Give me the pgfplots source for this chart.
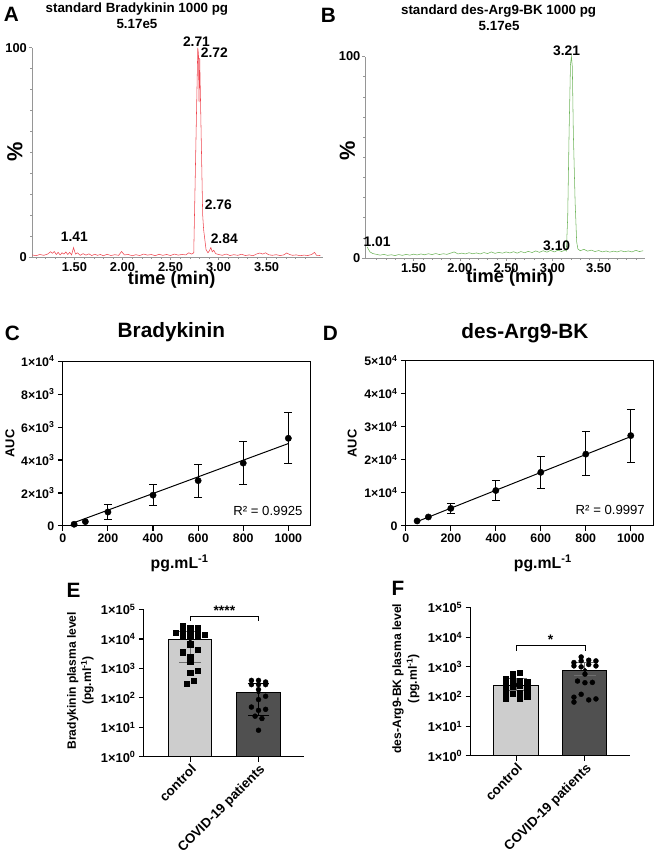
\documentclass[border=0pt]{standalone}
\usepackage{fontspec}
\setmainfont{Liberation Sans}
\usepackage{pgfplots}
\pgfplotsset{compat=1.18}
\definecolor{trA}{RGB}{238,70,80}
\definecolor{trB}{RGB}{110,180,90}
\definecolor{lgray}{RGB}{205,205,205}
\definecolor{dgray}{RGB}{80,80,80}
\definecolor{egray}{RGB}{110,110,110}
\definecolor{agray}{RGB}{150,150,150}
\newcommand{\fs}[1]{\fontsize{#1}{#1}\selectfont}
\pgfplotsset{
  chromax/.style={anchor=south west, scale only axis, clip=false,
    axis x line*=bottom, axis y line*=left,
    x axis line style={-, draw=agray, line width=0.5pt}, y axis line style={-, draw=agray, line width=0.5pt},
    xtick={1.5,2,2.5,3,3.5}, xticklabels={1.50,2.00,2.50,3.00,3.50},
    minor xtick={1.1,1.2,1.3,1.4,1.6,1.7,1.8,1.9,2.1,2.2,2.3,2.4,2.6,2.7,2.8,2.9,3.1,3.2,3.3,3.4,3.6,3.7,3.8,3.9},
    ymin=0, ymax=100, ytick={0,100}, yticklabels={0,100},
    minor ytick={10,20,30,40,50,60,70,80,90},
    tick align=outside, major tick length=3bp, minor tick length=2bp,
    every tick/.style={agray, line width=0.4pt},
    ticklabel style={font=\fs{13}\bfseries, inner sep=2bp}},
  calax/.style={anchor=south west, scale only axis, clip=false,
    xmin=0, xmax=1100, ymin=0,
    axis line style={line width=1.1pt},
    xtick={0,200,400,600,800,1000}, xticklabels={0,200,400,600,800,1000},
    xtick pos=bottom, ytick pos=left, tick align=outside, major tick length=5bp,
    every tick/.style={black, line width=1.1pt}, scaled ticks=false,
    ticklabel style={font=\fs{12.5}\bfseries}},
  plasmaax/.style={anchor=south west, scale only axis, clip=false,
    ymin=1, ymax=100000, yminorticks=false,
    axis x line*=bottom, axis y line*=left, axis line style={-, line width=1.1pt},
    xtick={0,1}, xticklabels={control,COVID-19 patients},
    xticklabel style={rotate=45, anchor=north east, font=\fs{13.5}\bfseries, inner sep=1bp},
    ytick={1,10,100,1000,10000,100000},
    yticklabels={1×10\textsuperscript{0},1×10\textsuperscript{1},1×10\textsuperscript{2},1×10\textsuperscript{3},1×10\textsuperscript{4},1×10\textsuperscript{5}},
    yticklabel style={font=\fs{13}\bfseries},
    tick align=outside, major tick length=5bp, every tick/.style={black, line width=1.1pt}},
  calpts/.style={only marks, mark=*, mark size=3.2bp, black,
    error bars/.cd, y dir=both, y explicit,
    error bar style={draw=black, line width=1pt},
    error mark options={rotate=90, draw=black, mark size=4bp, line width=1pt}},
}
\begin{document}
\begin{tikzpicture}
\begin{scope}[x=1bp,y=1bp]
\path[use as bounding box] (0,0) rectangle (671,856);
\end{scope}

% ---------- A ----------
\begin{axis}[chromax, at={(32.3bp,597bp)}, width=293.2bp, height=211bp, xmin=1.058, xmax=4.088]
\addplot[trA, line width=0.55pt] coordinates {
(1.06,1.0) (1.10,0.6) (1.14,1.2) (1.18,0.8) (1.22,1.4) (1.25,2.5) (1.27,1.8) (1.29,2.6)
(1.31,1.2) (1.33,2.2) (1.35,1.0) (1.37,2.0) (1.39,1.4) (1.41,2.4) (1.43,1.2) (1.45,2.2)
(1.47,1.0) (1.49,4.5) (1.51,1.4) (1.53,2.0) (1.56,0.8) (1.59,1.6) (1.62,0.9) (1.65,1.5)
(1.68,0.7) (1.71,1.3) (1.74,0.8) (1.77,1.2) (1.80,0.6) (1.84,1.3) (1.88,0.7) (1.92,1.1)
(1.96,0.8) (1.99,2.6) (2.02,1.0) (2.06,1.2) (2.10,0.6) (2.14,1.1) (2.18,0.7) (2.22,1.4)
(2.26,0.9) (2.30,1.2) (2.34,0.6) (2.38,1.3) (2.42,0.8) (2.46,1.2) (2.50,0.7) (2.54,1.4)
(2.58,0.9) (2.62,1.2) (2.66,1.0) (2.69,2.0) (2.72,1.4) (2.742,2.0) (2.784,100) (2.791,97)
(2.797,74) (2.804,95) (2.835,20) (2.845,13) (2.870,3.5) (2.890,2.0) (2.905,3.0) (2.92,4.5)
(2.935,2.5) (2.95,3.2) (2.97,1.6) (3.00,1.2) (3.04,0.8) (3.08,1.4) (3.12,0.7) (3.16,1.1)
(3.20,0.8) (3.24,1.3) (3.28,0.7) (3.32,1.0) (3.36,0.6) (3.40,1.5) (3.43,1.9) (3.46,1.4)
(3.49,2.0) (3.52,1.1) (3.56,0.8) (3.60,1.1) (3.64,0.7) (3.68,1.0) (3.71,1.9) (3.74,1.2)
(3.77,0.8) (3.81,1.0) (3.85,0.6) (3.89,0.9) (3.93,0.7) (3.97,1.2) (4.00,2.2) (4.02,0.8)
(4.06,0.7)};
\end{axis}

% ---------- B ----------
\begin{axis}[chromax, at={(368.3bp,596bp)}, width=281.7bp, height=203bp, xmin=0.981, xmax=4.0]
\addplot[trB, line width=0.55pt] coordinates {
(1.00,5.5) (1.01,4.5) (1.03,3.0) (1.06,2.2) (1.10,1.8) (1.14,1.4) (1.18,1.8) (1.22,1.3)
(1.26,1.6) (1.30,1.2) (1.34,1.7) (1.38,1.3) (1.42,1.8) (1.46,1.4) (1.50,1.9) (1.54,1.5)
(1.58,2.0) (1.62,1.6) (1.66,2.1) (1.70,1.7) (1.74,2.2) (1.78,1.7) (1.82,2.1) (1.86,1.8)
(1.90,2.4) (1.94,3.0) (1.98,2.0) (2.02,2.4) (2.06,2.0) (2.10,2.6) (2.14,2.1) (2.18,2.5)
(2.22,2.0) (2.26,2.7) (2.30,2.2) (2.34,3.0) (2.38,2.3) (2.42,2.8) (2.46,2.4) (2.50,3.0)
(2.54,2.5) (2.58,3.1) (2.62,2.4) (2.66,3.2) (2.70,2.6) (2.74,3.3) (2.78,2.7) (2.82,3.5)
(2.86,2.8) (2.90,3.6) (2.94,2.9) (2.98,3.8) (3.02,3.0) (3.06,3.9) (3.10,3.2) (3.14,4.0)
(3.150,3.5) (3.165,20) (3.180,62) (3.195,96) (3.205,100) (3.215,95) (3.226,62) (3.245,28)
(3.262,8) (3.275,4.5) (3.30,3.6) (3.34,4.3) (3.38,3.4) (3.42,3.9) (3.46,3.2) (3.50,3.7)
(3.54,3.0) (3.58,3.5) (3.62,2.9) (3.66,3.4) (3.70,3.0) (3.74,3.6) (3.78,3.1) (3.82,3.5)
(3.86,3.0) (3.90,3.8) (3.94,3.2) (3.98,3.6)};
\end{axis}

% ---------- C ----------
\begin{axis}[calax, at={(63.3bp,326bp)}, width=250bp, height=166bp, ymax=10000,
  ytick={0,2000,4000,6000,8000,10000},
  yticklabels={0,2×10\textsuperscript{3},4×10\textsuperscript{3},6×10\textsuperscript{3},8×10\textsuperscript{3},1×10\textsuperscript{4}}]
\addplot[black, line width=1pt] coordinates {(50,200) (1000,5000)};
\addplot[calpts] coordinates {
(50,100) (100,260)
(200,843) += (0,462) -= (0,463)
(400,1867) += (0,643) -= (0,622)
(600,2750) += (0,965) -= (0,1003)
(800,3815) += (0,1285) -= (0,1285)
(1000,5320) += (0,1570) -= (0,1545)};
\end{axis}

% ---------- D ----------
\begin{axis}[calax, at={(409bp,326bp)}, width=249.3bp, height=166.7bp, ymax=50000,
  ytick={0,10000,20000,30000,40000,50000},
  yticklabels={0,1×10\textsuperscript{4},2×10\textsuperscript{4},3×10\textsuperscript{4},4×10\textsuperscript{4},5×10\textsuperscript{4}}]
\addplot[black, line width=1pt] coordinates {(50,1300) (1000,27000)};
\addplot[calpts] coordinates {
(50,1500) (100,2700)
(200,5300) += (0,1500) -= (0,1500)
(400,10700) += (0,3100) -= (0,3100)
(600,16200) += (0,4900) -= (0,5000)
(800,21700) += (0,6700) -= (0,6500)
(1000,27300) += (0,8000) -= (0,8000)};
\end{axis}

% ---------- E ----------
\begin{axis}[ymode=log, plasmaax, at={(145bp,93.3bp)}, width=161bp, height=148.4bp, xmin=-0.679, xmax=1.661]
\addplot[ybar, bar width=0.63, bar shift=0pt, fill=lgray, draw=black, line width=1.1pt] coordinates {(0,9800)};
\addplot[ybar, bar width=0.64, bar shift=0pt, fill=dgray, draw=black, line width=1.1pt] coordinates {(1,155)};
\addplot[only marks, mark=none, error bars/.cd, y dir=both, y explicit,
  error bar style={draw=egray, line width=1pt},
  error mark options={rotate=90, draw=egray, mark size=11bp, line width=1pt}]
  coordinates {(0,9800) += (0,8800) -= (0,8210)};
\addplot[only marks, mark=none, error bars/.cd, y dir=both, y explicit,
  error bar style={draw=black, line width=1pt},
  error mark options={rotate=90, draw=black, mark size=11bp, line width=1pt}]
  coordinates {(1,155) += (0,144) -= (0,129)};
\addplot[only marks, mark=square*, mark size=2.6bp, black] coordinates {
(-0.106,27400) (0,24800) (0.106,23500) (-0.218,16800) (-0.106,17700) (0,16300) (0.106,17200)
(0.214,14400) (-0.106,12600) (0,12900) (0.106,12600) (0,6640) (-0.106,3560) (0.106,4260)
(0,2540) (0,1720) (0,700) (0.106,857) (0.054,385) (-0.054,299)};
\addplot[only marks, mark=*, mark size=2.5bp, black] coordinates {
(0.896,394) (1,394) (1.104,347) (0.896,283) (1,283) (1.104,283) (1,192) (1.104,114)
(1,88) (0.896,49) (1.104,41) (1,38) (0.95,24) (1.05,20) (1,8)};
\draw[line width=0.8pt] (axis cs:0,40400) -- (axis cs:0,59400) -- (axis cs:1,59400) -- (axis cs:1,40400);
\node[font=\fs{14}\bfseries, anchor=base, inner sep=0pt] at (axis cs:0.5,62000) {****};
\end{axis}

% ---------- F ----------
\begin{axis}[ymode=log, plasmaax, at={(474.3bp,94.3bp)}, width=160.7bp, height=149.4bp, xmin=-0.662, xmax=1.657]
\addplot[ybar, bar width=0.65, bar shift=0pt, fill=lgray, draw=black, line width=1.1pt] coordinates {(0,244)};
\addplot[ybar, bar width=0.64, bar shift=0pt, fill=dgray, draw=black, line width=1.1pt] coordinates {(1,776)};
\addplot[only marks, mark=none, error bars/.cd, y dir=both, y explicit,
  error bar style={draw=egray, line width=1pt},
  error mark options={rotate=90, draw=egray, mark size=11bp, line width=1pt}]
  coordinates {(0,244) += (0,166) -= (0,89) (1,776) += (0,594) -= (0,251)};
\addplot[only marks, mark=square*, mark size=2.6bp, black] coordinates {
(-0.051,570) (0.055,650) (-0.157,388) (-0.051,388) (0.055,341) (-0.157,278) (-0.051,278)
(0.055,300) (0.16,308) (-0.157,215) (-0.051,209) (0.055,226) (0.16,199) (-0.157,150)
(-0.051,122) (0.055,135) (0.16,139) (-0.157,88) (0.055,88) (0.16,100)};
\addplot[only marks, mark=*, mark size=2.5bp, black] coordinates {
(0.945,2160) (0.84,1400) (0.945,1590) (1.055,1680) (1.16,1590) (0.84,1080) (0.945,1000)
(1.055,1200) (1.16,1080) (1,570) (0.892,333) (1,292) (1.108,300) (0.945,119) (0.84,95)
(0.84,65) (1.055,77) (1.16,83)};
\draw[line width=0.8pt] (axis cs:0,3510) -- (axis cs:0,5320) -- (axis cs:1,5320) -- (axis cs:1,3510);
\node[font=\fs{14}\bfseries, anchor=base, inner sep=0pt] at (axis cs:0.5,5600) {*};
\end{axis}

% ---------- free text ----------
\begin{scope}[x=1bp,y=1bp, every node/.style={inner sep=0pt}]
\node[font=\fs{21}\bfseries] at (11.5,841.5) {A};
\node[font=\fs{21}\bfseries] at (331,841) {B};
\node[font=\fs{21}\bfseries] at (12.5,520) {C};
\node[font=\fs{21}\bfseries] at (333,520) {D};
\node[font=\fs{21}\bfseries] at (74,261) {E};
\node[font=\fs{21}\bfseries] at (401,263) {F};
\node[font=\fs{13.5}\bfseries] at (138,847) {standard Bradykinin 1000 pg};
\node[font=\fs{13.5}\bfseries] at (138,832) {5.17e5};
\node[font=\fs{13.5}\bfseries] at (502.5,845) {standard des-Arg9-BK 1000 pg};
\node[font=\fs{13.5}\bfseries] at (503,830) {5.17e5};
\node[font=\fs{22}\bfseries, rotate=90] at (15,703) {\%};
\node[font=\fs{22}\bfseries, rotate=90] at (350,704) {\%};
\node[font=\fs{18.5}\bfseries] at (173,574.5) {time (min)};
\node[font=\fs{18.5}\bfseries] at (514,576) {time (min)};
\node[font=\fs{14}\bfseries] at (198,814) {2.71};
\node[font=\fs{14}\bfseries] at (216,803) {2.72};
\node[font=\fs{14}\bfseries] at (220,650) {2.76};
\node[font=\fs{14}\bfseries] at (226,615) {2.84};
\node[font=\fs{14}\bfseries] at (75,617) {1.41};
\node[font=\fs{14}\bfseries] at (571,805) {3.21};
\node[font=\fs{14}\bfseries] at (380,612) {1.01};
\node[font=\fs{14}\bfseries] at (561,608) {3.10};
\node[font=\fs{21}\bfseries] at (172.7,521) {Bradykinin};
\node[font=\fs{21}\bfseries] at (529,520) {des-Arg9-BK};
\node[font=\fs{13}\bfseries, rotate=90] at (10,409) {AUC};
\node[font=\fs{13}\bfseries, rotate=90] at (355,409) {AUC};
\node[font=\fs{16}\bfseries] at (181,288) {pg.mL\textsuperscript{-1}};
\node[font=\fs{16}\bfseries] at (547,288) {pg.mL\textsuperscript{-1}};
\node[font=\fs{13.3}] at (270,341) {R² = 0.9925};
\node[font=\fs{13.3}] at (615,342) {R² = 0.9997};
\node[font=\fontsize{12.2}{15.5}\selectfont\bfseries, rotate=90, align=center] at (81,170) {Bradykinin plasma level\\(pg.ml\textsuperscript{-1})};
\node[font=\fontsize{12.3}{16}\selectfont\bfseries, rotate=90, align=center] at (409,172) {des-Arg9-BK plasma level\\(pg.ml\textsuperscript{-1})};
\end{scope}
\end{tikzpicture}
\end{document}
